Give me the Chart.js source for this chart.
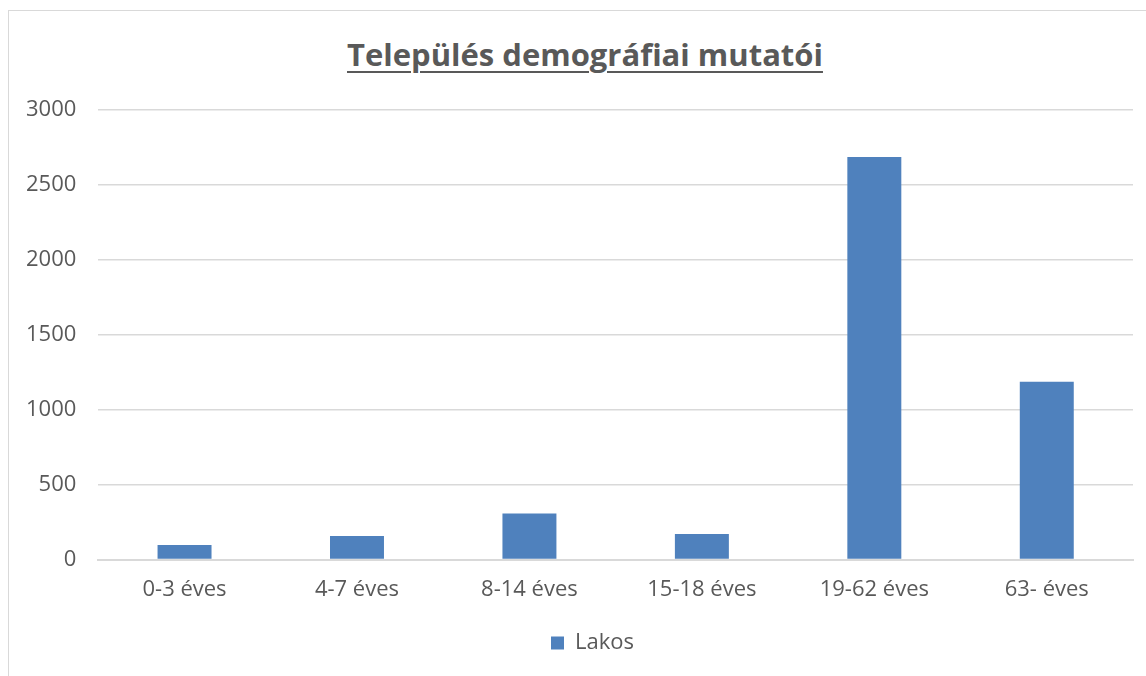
<!DOCTYPE html>
<html>
<head>
<meta charset="utf-8">
<script src="https://cdn.jsdelivr.net/npm/chart.js@4/dist/chart.umd.min.js"></script>
<style>
  html, body { margin: 0; padding: 0; background: #fff; }
  #wrap { position: relative; width: 1146px; height: 676px; overflow: hidden; }
  #frame {
    position: absolute; left: 8px; top: 10px; width: 1150px; height: 680px;
    border: 1px solid #d9d9d9; box-sizing: border-box;
  }
  #title {
    position: absolute; left: 0; top: 33px; width: 1170px; text-align: center;
    font-family: "Open Sans", sans-serif; font-weight: bold; font-size: 31px;
    color: #595959; text-decoration: underline; text-underline-offset: 5px;
    text-decoration-thickness: 2px;
  }
  canvas { position: absolute; left: 0; top: 0; }
</style>
</head>
<body>
<div id="wrap">
  <div id="frame"></div>
  <div id="title">Település demográfiai mutatói</div>
  <canvas id="chart" width="1146" height="676"></canvas>
</div>
<script>
// korcsoportok és lakosszám
const categories = ["0-3 éves", "4-7 éves", "8-14 éves", "15-18 éves", "19-62 éves", "63- éves"];
const lakos = [97, 157, 308, 171, 2687, 1186];
const seriesName = "Lakos";

const textColor = "#595959";
const gridColor = "#d9d9d9";
const barColor = "#4f81bd";
const font = { family: "'Open Sans', sans-serif", size: 22 };

// a jelmagyarázatot kicsit jobbra toljuk, mint az eredetin
const legendShift = {
  id: "legendShift",
  afterLayout(chart) {
    if (chart.legend) {
      chart.legend.left += 24;
      chart.legend.right += 24;
    }
  },
};

const ctx = document.getElementById("chart").getContext("2d");
new Chart(ctx, {
  type: "bar",
  data: {
    labels: categories,
    datasets: [
      {
        label: seriesName,
        data: lakos,
        backgroundColor: barColor,
        borderWidth: 0,
        categoryPercentage: 1,
        barPercentage: 0.313,
      },
    ],
  },
  options: {
    responsive: false,
    animation: false,
    layout: { padding: { top: 110, left: 4, right: 13, bottom: 12 } },
    plugins: {
      legend: {
        position: "bottom",
        labels: {
          color: textColor,
          font: font,
          boxWidth: 13,
          boxHeight: 13,
          padding: 20,
        },
      },
      tooltip: { enabled: false },
    },
    scales: {
      x: {
        grid: { display: false },
        border: { color: gridColor, width: 2 },
        ticks: { color: textColor, font: font, padding: 9 },
      },
      y: {
        min: 0,
        max: 3000,
        ticks: {
          stepSize: 500,
          color: textColor,
          font: font,
          padding: 22,
          callback: (v) => String(v),
        },
        grid: { color: gridColor, lineWidth: 1.5, drawTicks: false },
        border: { display: false },
      },
    },
  },
  plugins: [legendShift],
});
</script>
</body>
</html>
